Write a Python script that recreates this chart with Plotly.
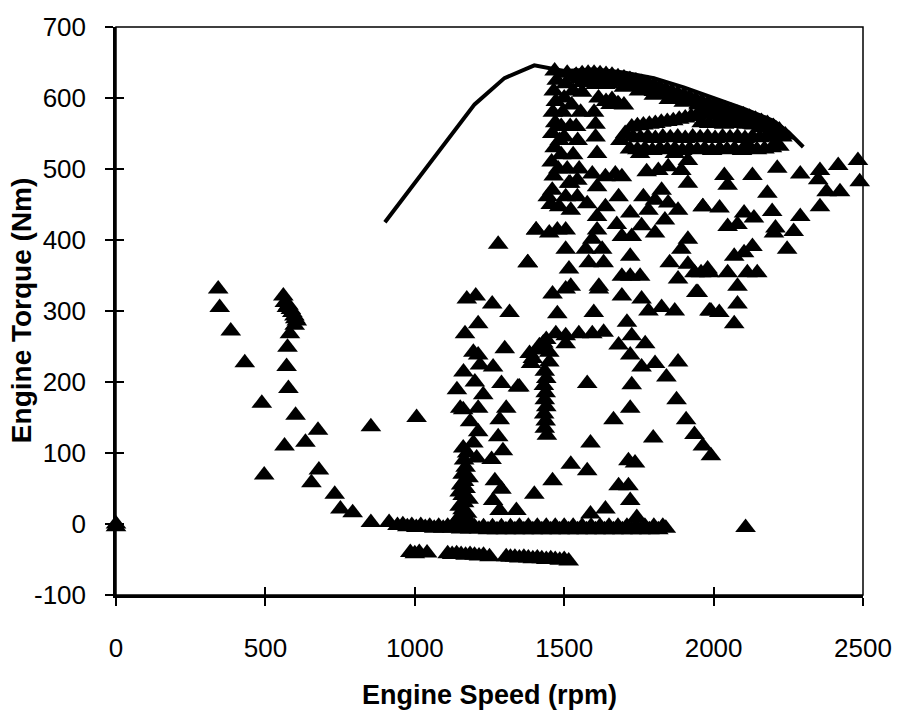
import plotly.graph_objects as go

# Full-load (maximum torque) curve of the engine
wot_speed = [900, 1000, 1100, 1200, 1300, 1400, 1500, 1600, 1700, 1800, 1900, 2000, 2100, 2200, 2250, 2300]
wot_torque = [425, 481, 537, 591, 628, 646, 638, 640, 636, 628, 615, 600, 585, 568, 552, 531]

# Axis ticks
x_ticks = [0, 500, 1000, 1500, 2000, 2500]
y_ticks = [-100, 0, 100, 200, 300, 400, 500, 600, 700]
y_tick_text = ["-100", "0", "100", "200", "300", "400", "500", "600", "700"]

# Measured operating points, grouped by region of the map
idle_speed = [0, 0, 853, 914, 942, 960, 975, 990, 1005, 1020, 1035, 1050, 1065, 1080, 1095, 1110,
              1125, 1140, 1155, 1170, 1185, 1200, 1215, 1230, 1245, 1260, 1275, 1290, 1305, 1320,
              1335, 1350, 1365, 1380, 1395, 1410, 1425, 1440, 1455, 1470, 1485, 1500, 1515, 1530,
              1545, 1560, 1575, 1590, 1605, 1620, 1635, 1650, 1665, 1680, 1695, 1710, 1725, 1740,
              1755, 1770, 1785, 1800, 1815, 1830, 1840, 2107]
idle_torque = [0, -4, 2, 2, -2, -1, -4, -2, -5, -2, -5, -3, -6, -3, -6, -3,
               -6, -3, -7, -3, -7, -4, -7, -4, -8, -4, -8, -4, -8, -4,
               -8, -3, -8, -3, -8, -3, -8, -3, -8, -3, -8, -3, -8, -3,
               -8, -3, -8, -3, -8, -3, -8, -3, -8, -3, -8, -3, -8, -3,
               -8, -3, -8, -3, -8, -3, -6, -5]

motoring_speed = [985, 1000, 1015, 1041, 1110, 1125, 1140, 1155, 1170, 1185, 1200, 1215, 1230, 1250,
                  1306, 1320, 1335, 1350, 1365, 1380, 1395, 1410, 1425, 1440, 1455, 1470, 1485,
                  1500, 1515]
motoring_torque = [-40, -42, -40, -41, -42, -43, -42, -43, -44, -43, -44, -45, -44, -46,
                   -46, -47, -47, -48, -47, -48, -49, -48, -49, -50, -49, -50, -51,
                   -50, -52]

low_speed_pts_x = [342, 347, 384, 431, 488, 496, 564, 634, 676, 679, 654, 732, 751, 792, 853, 1006,
                   560, 565, 572, 577, 585, 590, 597, 600, 605, 598, 582, 574, 571, 577, 601]
low_speed_pts_y = [331, 305, 272, 227, 170, 69, 110, 115, 132, 76, 58, 42, 21, 16, 137, 150,
                   321, 312, 305, 308, 302, 298, 293, 289, 286, 280, 268, 249, 222, 191, 153]

part_load_x = [1150, 1160, 1165, 1160, 1170, 1165, 1160, 1170, 1165, 1175, 1150, 1175, 1180, 1155,
               1180, 1150, 1180, 1140,
               1162, 1152, 1141, 1163, 1168, 1174, 1204, 1259, 1317, 1212, 1196, 1212, 1218, 1262,
               1301, 1290, 1345, 1201, 1229, 1162, 1212, 1306, 1284, 1185, 1212, 1279, 1295, 1257,
               1196, 1207, 1268, 1290, 1262, 1284, 1340, 1400, 1279, 1378, 1406, 1350,
               1417, 1395, 1384, 1389, 1417, 1450, 1450, 1430, 1440, 1435, 1440, 1432, 1438, 1435,
               1440, 1433, 1438, 1435, 1442,
               1461, 1522, 1616, 1693, 1759, 1782, 1826, 1870, 1942, 1986, 1477, 1599, 1472, 1505,
               1549, 1594, 1632, 1505, 1577, 1682, 1710, 1726, 1721, 1771, 1759, 1804, 1881, 1842,
               1726, 1721, 1876, 1908, 1936, 1964, 1991, 1665, 1798, 1588, 1522, 1577, 1461, 1715,
               1737, 1682, 1715, 1721, 1588, 1638, 1743]
part_load_y = [10, 20, 30, 40, 50, 60, 70, 80, 90, 100, 25, 15, 35, 55,
               65, 45, 5, 5,
               107, 163, 189, 214, 268, 317, 321, 310, 298, 282, 242, 238, 224, 221,
               247, 198, 193, 200, 182, 161, 163, 163, 147, 144, 130, 123, 103, 91,
               114, 93, 61, 49, 33, 19, 19, 42, 394, 368, 414, 193,
               245, 233, 240, 226, 251, 242, 228, 255, 260, 215, 205, 195, 185, 175,
               165, 155, 145, 135, 125,
               324, 335, 331, 321, 317, 300, 305, 300, 326, 300, 296, 298, 268, 265,
               268, 268, 270, 254, 198, 252, 284, 265, 238, 254, 221, 226, 228, 207,
               196, 163, 175, 147, 126, 110, 96, 147, 121, 114, 84, 75, 61, 89,
               86, 54, 54, 33, 14, 21, 9]

high_speed_x = [2483, 2489, 2417, 2423, 2356, 2350, 2378, 2356, 2290, 2268, 2246, 2290, 2213, 2180,
                2130, 2196, 2135, 2207, 2202, 2102, 2036, 2047, 2020, 1964, 2047, 2080, 2130, 2102,
                2069, 2047, 2113, 2146, 1986, 1958, 2080, 2080, 2069, 1991, 2019, 1947, 2113, 2212]
high_speed_y = [512, 482, 505, 468, 498, 485, 468, 447, 433, 412, 387, 493, 501, 466,
                491, 440, 431, 417, 410, 438, 491, 477, 445, 447, 419, 422, 391, 382,
                377, 354, 354, 354, 354, 354, 335, 310, 282, 300, 298, 326, 535, 535]

mid_load_x = [1445, 1505, 1544, 1483, 1522, 1406, 1450, 1477, 1505, 1378, 1505, 1516, 1505, 1582,
              1632, 1610, 1610, 1594, 1577, 1638, 1676, 1693, 1682, 1721, 1726, 1721, 1693, 1721,
              1754, 1759, 1765, 1804, 1782, 1826, 1848, 1837, 1804, 1881, 1914, 1964, 1914, 1892,
              1853, 1914, 1881, 1936, 1980, 1594, 1610, 1638, 1671, 1693, 1754, 1776, 1815, 1848,
              1870, 1892, 1914, 1616, 1627, 1572, 1544, 1516,
              1510, 1530, 1545, 1520, 1550, 1500, 1540, 1555]
mid_load_y = [461, 461, 461, 447, 442, 414, 410, 414, 414, 368, 387, 359, 331, 368,
              368, 433, 414, 401, 451, 447, 422, 405, 461, 438, 405, 377, 349, 349,
              349, 420, 461, 456, 442, 470, 452, 428, 410, 442, 480, 447, 401, 387,
              368, 366, 345, 354, 359, 493, 475, 489, 493, 489, 522, 496, 498, 503,
              522, 498, 512, 335, 387, 387, 484, 480,
              500, 520, 540, 480, 500, 545, 560, 580]

full_load_x = [1455, 1460, 1465, 1458, 1468, 1460, 1470, 1462, 1472, 1465, 1475, 1468, 1485, 1490,
               1495, 1500, 1505, 1510, 1520, 1525, 1530, 1535, 1480, 1490,
               1540, 1560, 1580, 1600, 1620, 1640, 1660, 1680, 1700, 1720, 1740, 1760, 1780, 1800,
               1820, 1840, 1860, 1880, 1900, 1920, 1940, 1960, 1980, 2000, 2020, 2040, 2060, 2080,
               2100, 2120, 2140, 2160, 2180, 2200, 2220, 2240,
               1560, 1600, 1650, 1700, 1750, 1800, 1850, 1900, 1950, 2000,
               1550, 1585, 1620, 1655, 1685, 1710, 1740, 1770, 1800, 1830, 1860, 1890, 1920, 1950,
               1980, 2010, 2040, 2070, 2100, 2130, 2160, 2190,
               1615, 1640, 1660, 1680, 1700, 1655, 1682, 1560, 1605, 1638,
               1605, 1605, 1610, 1600, 1688, 1704,
               1726, 1745, 1765, 1785, 1805, 1825, 1845, 1865, 1885, 1905, 1925, 1945, 1960,
               1720, 1745, 1770, 1795, 1820, 1845, 1870, 1895, 1920, 1945, 1970, 1995, 2020, 2045,
               2070, 2095, 2120, 2145, 2170, 2195, 2220,
               1730, 1755, 1780, 1805, 1830, 1855, 1880, 1905, 1930, 1955, 1980, 2005, 2030, 2055,
               2080, 2105, 2130, 2155, 2180, 2205, 2230,
               1960, 1985, 2010, 2035, 2060, 2085, 2110, 2135, 2160, 2185, 2210,
               1975, 2000, 2025, 2050, 2075, 2100, 2125, 2150, 2175]
full_load_y = [450, 470, 490, 510, 530, 550, 565, 580, 595, 610, 625, 638, 540, 560,
               580, 600, 620, 635, 560, 590, 610, 630, 500, 520,
               632, 634, 635, 635, 634, 633, 632, 630, 628, 626, 624, 622, 620, 618,
               615, 612, 609, 606, 604, 601, 598, 595, 592, 590, 587, 584, 581, 578,
               576, 573, 570, 567, 564, 560, 555, 548,
               622, 623, 620, 615, 610, 604, 598, 594, 590, 584,
               627, 629, 628, 626, 623, 620, 617, 613, 609, 606, 602, 598, 595, 592,
               588, 585, 578, 573, 568, 563, 558, 553,
               600, 595, 598, 592, 590, 591, 591, 608, 619, 619,
               563, 545, 522, 580, 540, 550,
               559, 561, 562, 563, 564, 566, 567, 568, 570, 572, 574, 576, 577,
               528, 527, 528, 526, 528, 527, 528, 526, 528, 527, 528, 526, 528, 527,
               528, 526, 528, 527, 528, 530, 532,
               545, 544, 545, 543, 545, 544, 545, 543, 545, 544, 545, 543, 545, 544,
               545, 543, 545, 544, 545, 546, 545,
               565, 564, 565, 563, 565, 564, 563, 562, 560, 558, 556,
               580, 578, 576, 574, 572, 570, 568, 566, 563]

speed_rpm = (idle_speed + motoring_speed + low_speed_pts_x + part_load_x + high_speed_x
             + mid_load_x + full_load_x)
torque_nm = (idle_torque + motoring_torque + low_speed_pts_y + part_load_y + high_speed_y
             + mid_load_y + full_load_y)

FONT = "Liberation Sans, Arial, sans-serif"

fig = go.Figure()
fig.add_trace(go.Scatter(
    x=speed_rpm, y=torque_nm, mode="markers", cliponaxis=False,
    marker=dict(symbol="triangle-up", size=18, color="black", line=dict(width=0)),
    showlegend=False, hoverinfo="x+y",
))
fig.add_trace(go.Scatter(
    x=wot_speed, y=wot_torque, mode="lines",
    line=dict(color="black", width=4),
    showlegend=False, hoverinfo="x+y",
))
# empty trace that attaches the overlay axes (inner halves of the crossing ticks)
fig.add_trace(go.Scatter(x=[], y=[], xaxis="x2", yaxis="y2", showlegend=False,
                         hoverinfo="skip"))

axis_common = dict(
    showgrid=False, zeroline=False, showline=True, linecolor="black", linewidth=2.5,
    ticks="outside", ticklen=8, tickwidth=2, tickcolor="black",
    tickfont=dict(family=FONT, size=26, color="black"),
)
inner_ticks = dict(ticks="inside", ticklen=8, tickwidth=2, tickcolor="black",
                   showticklabels=False, showgrid=False, zeroline=False, showline=False)

fig.update_layout(
    width=904, height=719,
    margin=dict(l=116, r=34, t=22, b=124),
    paper_bgcolor="white", plot_bgcolor="white",
    xaxis=dict(
        range=[0, 2500], tickvals=x_ticks,
        ticklabelstandoff=20,
        title=dict(text="<b>Engine Speed (rpm)</b>", font=dict(family=FONT, size=27, color="black"),
                   standoff=24),
        **axis_common,
    ),
    yaxis=dict(
        range=[-100, 700], tickvals=y_ticks, ticktext=y_tick_text,
        ticklabelstandoff=14,
        **axis_common,
    ),
    xaxis2=dict(overlaying="x", anchor="y", side="bottom", range=[0, 2500],
                tickvals=x_ticks, **inner_ticks),
    yaxis2=dict(overlaying="y", anchor="x", side="left", range=[-100, 700],
                tickvals=y_ticks, **inner_ticks),
    shapes=[dict(type="rect", xref="paper", yref="paper", x0=0, y0=0, x1=1, y1=1,
                 line=dict(color="black", width=1.5), layer="above")],
    annotations=[dict(text="<b>Engine Torque (Nm)</b>", textangle=-90,
                      xref="paper", yref="paper", x=-0.127, y=0.5,
                      xanchor="center", yanchor="middle", showarrow=False,
                      font=dict(family=FONT, size=28, color="black"))],
)

fig.write_html("out.html")
